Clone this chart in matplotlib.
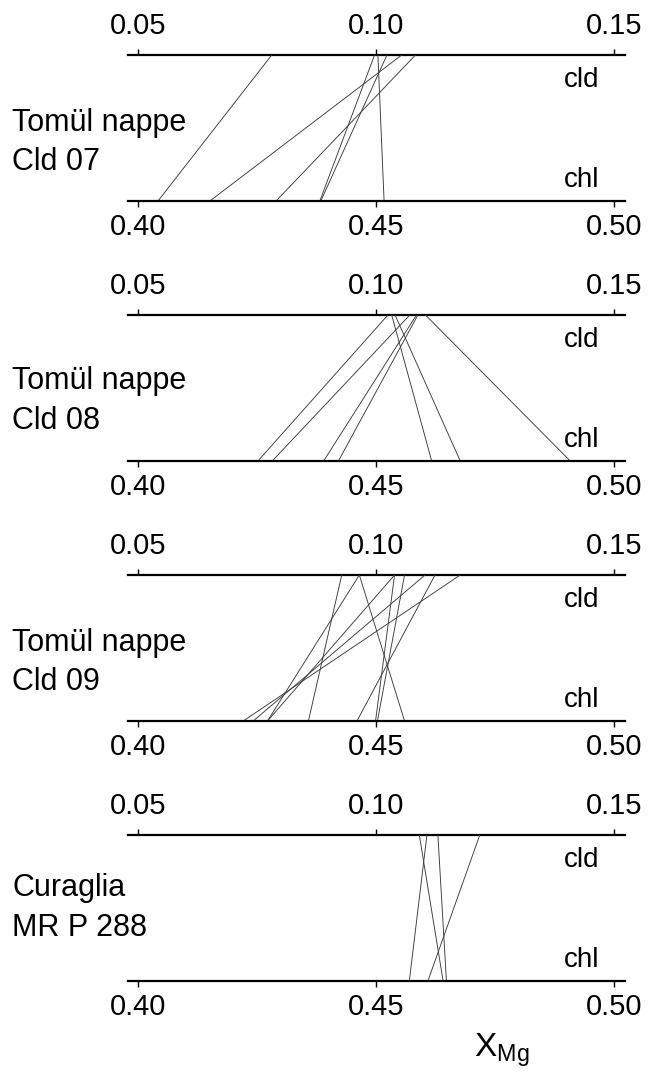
import matplotlib
matplotlib.use("Agg")
import matplotlib.pyplot as plt
from matplotlib.ticker import FormatStrFormatter

plt.rcParams['font.family'] = ['Liberation Sans', 'DejaVu Sans']
plt.rcParams['mathtext.fontset'] = 'custom'
plt.rcParams['mathtext.rm'] = 'Liberation Sans'

# X_Mg of chloritoid (top scale) and chlorite (bottom scale), one tie line per pair
samples = ["Tomül nappe\nCld 07", "Tomül nappe\nCld 08", "Tomül nappe\nCld 09", "Curaglia\nMR P 288"]

cld_07 = [0.0781, 0.1054, 0.1083, 0.0997, 0.1023, 0.1004]
chl_07 = [0.4042, 0.4151, 0.4290, 0.4382, 0.4384, 0.4517]

cld_08 = [0.1025, 0.1033, 0.1040, 0.1071, 0.1085, 0.1088, 0.1104]
chl_08 = [0.4252, 0.4617, 0.4677, 0.4282, 0.4390, 0.4421, 0.4908]

cld_09 = [0.0928, 0.0965, 0.0965, 0.1039, 0.1039, 0.1060, 0.1103, 0.1124, 0.1177]
chl_09 = [0.4358, 0.4560, 0.4272, 0.4272, 0.4499, 0.4503, 0.4242, 0.4460, 0.4221]

cld_288 = [0.1107, 0.1091, 0.1130, 0.1218]
chl_288 = [0.4570, 0.4641, 0.4648, 0.4609]

cld_ticks = [0.05, 0.10, 0.15]
chl_ticks = [0.40, 0.45, 0.50]
shift = 0.35  # cld axis = chl axis - shift

data = [(cld_07, chl_07), (cld_08, chl_08), (cld_09, chl_09), (cld_288, chl_288)]
label_pos = [0.40, 0.41, 0.40, 0.50]

W, H = 652, 1077
fig = plt.figure(figsize=(W / 100, H / 100), dpi=100)

tops = [55, 315, 575, 835]
gap = 146
x0, x1 = 128, 625

for (cld, chl), name, top, lp in zip(data, samples, tops, label_pos):
    ax = fig.add_axes([x0 / W, 1 - (top + gap) / H, (x1 - x0) / W, gap / H])
    ax.set_xlim(0.40 - 10 / 4760, 0.50 + 11 / 4760)
    ax.set_ylim(0, 1)
    for c, h in zip(cld, chl):
        ax.plot([c + shift, h], [1, 0], color='#3a3a3a', lw=0.65)

    for s in ['left', 'right', 'top']:
        ax.spines[s].set_visible(False)
    ax.spines['bottom'].set_linewidth(1.6)
    ax.set_yticks([])
    ax.set_xticks(chl_ticks)
    ax.xaxis.set_major_formatter(FormatStrFormatter('%.2f'))
    ax.tick_params(axis='x', direction='out', length=4, width=1, labelsize=21, pad=4.5)

    sec = ax.secondary_xaxis('top', functions=(lambda x: x - shift, lambda x: x + shift))
    sec.set_xticks(cld_ticks)
    sec.xaxis.set_major_formatter(FormatStrFormatter('%.2f'))
    sec.spines['top'].set_linewidth(1.6)
    sec.tick_params(axis='x', direction='out', length=4, width=1, labelsize=21, pad=6.5)

    ax.text(0.877, 0.78, 'cld', transform=ax.transAxes, fontsize=20, va='baseline')
    ax.text(0.877, 0.096, 'chl', transform=ax.transAxes, fontsize=20, va='baseline')

    fig.text(12 / W, 1 - (top + gap) / H + lp * gap / H, name, fontsize=22,
             va='center', ha='left', linespacing=1.42)

fig.text(474 / W, 1 - 1057 / H, r'$\mathregular{X_{Mg}}$', fontsize=24, va='baseline')

fig.savefig('out.png', dpi=100)
